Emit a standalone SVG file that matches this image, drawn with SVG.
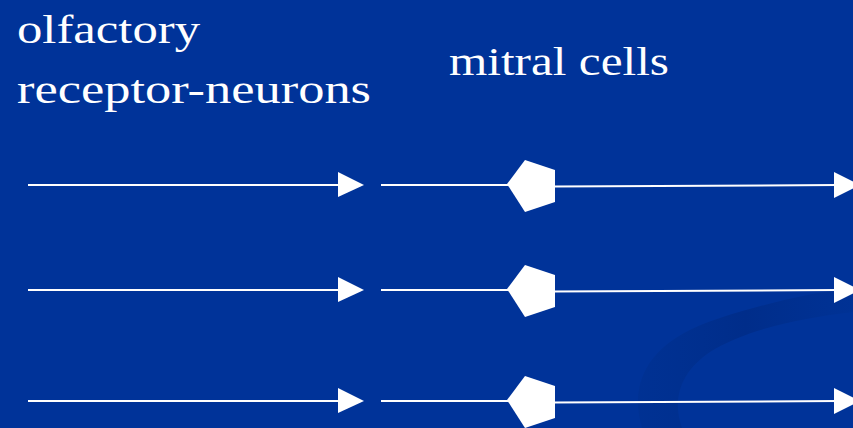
<svg xmlns="http://www.w3.org/2000/svg" width="853" height="428" viewBox="0 0 853 428">
  <defs>
    <style>
      .label { font-family: "Liberation Serif", "DejaVu Serif", serif; fill: #ffffff; font-size: 40px; }
      .axon { stroke: #ffffff; stroke-width: 2; fill: none; }
      .head { fill: #ffffff; }
      .soma { fill: #ffffff; }
    </style>
    <linearGradient id="swooshFade" x1="0" y1="0" x2="1" y2="0">
      <stop offset="0" stop-color="#00308f" stop-opacity="0.6"/>
      <stop offset="0.5" stop-color="#002d8a" stop-opacity="1"/>
      <stop offset="1" stop-color="#00308f" stop-opacity="0.4"/>
    </linearGradient>
  </defs>

  <!-- background -->
  <rect x="0" y="0" width="853" height="428" fill="#003399"/>
  <!-- decorative swoosh in the lower right -->
  <path d="M 642 428 C 628 380 650 340 720 318 C 770 302 815 292 853 288 L 853 312 C 800 318 745 330 710 352 C 680 372 672 400 682 428 Z" fill="url(#swooshFade)"/>

  <!-- labels -->
  <g id="label-receptors">
    <text class="label" x="17" y="43" textLength="183" lengthAdjust="spacingAndGlyphs">olfactory</text>
    <text class="label" x="17" y="103" textLength="354" lengthAdjust="spacingAndGlyphs">receptor-neurons</text>
  </g>
  <g id="label-mitral">
    <text class="label" x="449" y="75" textLength="220" lengthAdjust="spacingAndGlyphs">mitral cells</text>
  </g>

  <!-- connectors -->
  <g id="connectors">
    <!-- receptor neuron axons -->
    <line class="axon" x1="28" y1="185" x2="340" y2="185"/>
    <polygon class="head" points="338,172 364,185 338,197"/>
    <line class="axon" x1="28" y1="290" x2="340" y2="290"/>
    <polygon class="head" points="338,277 364,290 338,302"/>
    <line class="axon" x1="28" y1="401" x2="340" y2="401"/>
    <polygon class="head" points="338,388 364,401 338,413"/>

    <!-- dendrites into mitral cells -->
    <line class="axon" x1="381" y1="185" x2="510" y2="185"/>
    <line class="axon" x1="381" y1="290" x2="510" y2="290"/>
    <line class="axon" x1="381" y1="401" x2="510" y2="401"/>

    <!-- mitral cell output axons -->
    <line class="axon" x1="553" y1="186.5" x2="838" y2="185"/>
    <polygon class="head" points="834,172 860,185 834,198"/>
    <line class="axon" x1="553" y1="291.5" x2="838" y2="290"/>
    <polygon class="head" points="834,277 860,290 834,303"/>
    <line class="axon" x1="553" y1="402.5" x2="838" y2="401"/>
    <polygon class="head" points="834,388 860,401 834,414"/>
  </g>

  <!-- mitral cell bodies -->
  <g id="mitral-1">
    <polygon class="soma" points="507,184 525,160 555,170 555,202 525,212"/>
  </g>
  <g id="mitral-2">
    <polygon class="soma" points="507,289 525,265 555,275 555,307 525,317"/>
  </g>
  <g id="mitral-3">
    <polygon class="soma" points="507,400 525,376 555,386 555,418 525,428"/>
  </g>
</svg>
